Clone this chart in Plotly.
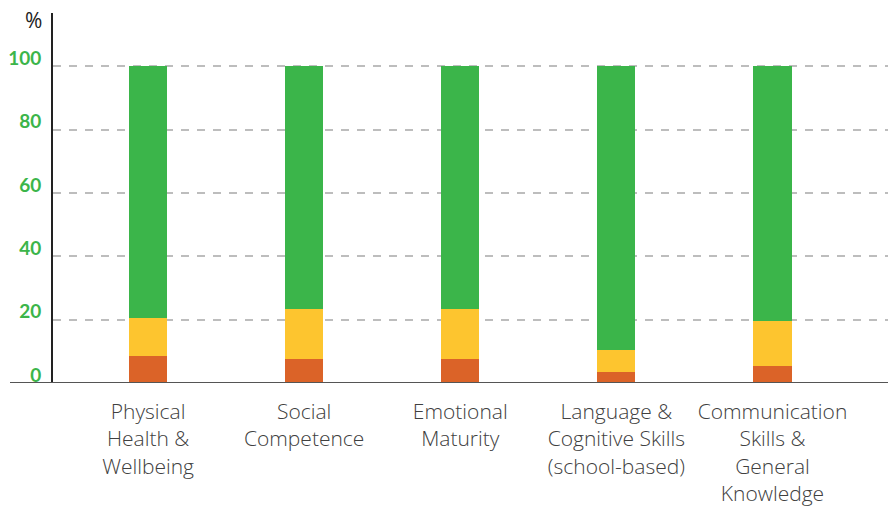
import plotly.graph_objects as go

categories = [
    "Physical<br>Health &<br>Wellbeing",
    "Social<br>Competence",
    "Emotional<br>Maturity",
    "Language &<br>Cognitive Skills<br>(school-based)",
    "Communication<br>Skills &<br>General<br>Knowledge",
]
vulnerable = [8.6, 7.7, 7.7, 3.6, 5.5]
at_risk = [12.0, 15.8, 15.8, 6.9, 14.2]
on_track = [79.4, 76.5, 76.5, 89.5, 80.3]
tick_vals = [0, 20, 40, 60, 80, 100]
tick_text = ["0", "20", "40", "60", "80", "100"]

colors = {"vulnerable": "#db6328", "at_risk": "#fdc52f", "on_track": "#3bb54a"}

fig = go.Figure()
for name, vals, key in [("Vulnerable", vulnerable, "vulnerable"),
                        ("At risk", at_risk, "at_risk"),
                        ("On track", on_track, "on_track")]:
    fig.add_trace(go.Bar(x=categories, y=vals, name=name,
                         marker=dict(color=colors[key], line=dict(width=0)),
                         width=0.244))

W, H = 888, 506
L, R, T, B = 53, 0, 13, 123
fig.update_layout(
    width=W, height=H, barmode="stack", showlegend=False,
    margin=dict(l=L, r=R, t=T, b=B, pad=0),
    plot_bgcolor="white", paper_bgcolor="white",
    xaxis=dict(range=[-0.609, 4.74], showgrid=False, zeroline=False, showline=False,
               ticks="", tickfont=dict(family="Open Sans", size=21, color="#404040", weight=300),
               ticklabelstandoff=14),
    yaxis=dict(range=[0, 116.8], tickvals=tick_vals, ticktext=tick_text,
               showgrid=True, gridcolor="#bdbdbd", gridwidth=1.5, griddash="8px,8px",
               zeroline=False, showline=True, linecolor="#222222", linewidth=2,
               ticks="", ticklabelstandoff=6, ticklabelshift=-8,
               tickfont=dict(family="Lato", size=19, color="#3bb54a", weight="bold")),
    annotations=[dict(text="%", xref="paper", yref="paper",
                      x=(33 - L) / (W - L - R), y=(H - B - 20) / (H - B - T) + 0.0,
                      xanchor="center", yanchor="middle", showarrow=False,
                      font=dict(family="Open Sans", size=21, color="#222222"))],
    shapes=[dict(type="line", xref="paper", yref="y",
                 x0=(10 - L) / (W - L - R), x1=1, y0=0, y1=0,
                 line=dict(color="#555555", width=2), layer="above")],
)
fig.write_html("out.html")
